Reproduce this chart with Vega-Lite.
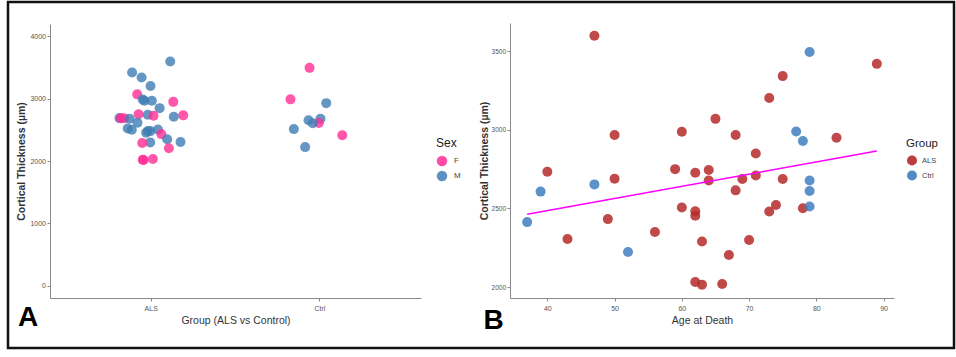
{
  "$schema": "https://vega.github.io/schema/vega-lite/v6.json",
  "width": 946,
  "height": 346,
  "autosize": {"type": "none"},
  "padding": {"left": 8, "top": 2, "right": 2, "bottom": 9},
  "background": "white",
  "config": {
    "font": "Liberation Sans",
    "view": {"stroke": "#111", "strokeWidth": 2.5},
    "axis": {
      "grid": false,
      "domainColor": "#8a8a8a",
      "tickColor": "#8a8a8a",
      "tickSize": 3,
      "labelColor": "#555",
      "labelFontSize": 7,
      "labelFont": "Liberation Sans",
      "titleColor": "#333",
      "titleFont": "Liberation Sans"
    },
    "legend": {
      "titleFont": "Liberation Sans",
      "labelFont": "Liberation Sans"
    }
  },
  "title": {
    "text": "A",
    "orient": "bottom",
    "anchor": "start",
    "frame": "group",
    "fontSize": 28,
    "fontWeight": "bold",
    "color": "#000",
    "offset": -44,
    "dx": 10
  },
  "datasets": {
    "sexdata": [
      {"group": "ALS", "sex": "M", "jitter": 0.113, "thickness": 3599},
      {"group": "ALS", "sex": "M", "jitter": -0.113, "thickness": 3420},
      {"group": "ALS", "sex": "M", "jitter": -0.057, "thickness": 3342},
      {"group": "ALS", "sex": "M", "jitter": -0.004, "thickness": 3203},
      {"group": "ALS", "sex": "F", "jitter": -0.083, "thickness": 3070},
      {"group": "ALS", "sex": "M", "jitter": -0.05, "thickness": 2988},
      {"group": "ALS", "sex": "M", "jitter": -0.04, "thickness": 2967},
      {"group": "ALS", "sex": "M", "jitter": 0.004, "thickness": 2967},
      {"group": "ALS", "sex": "F", "jitter": 0.131, "thickness": 2950},
      {"group": "ALS", "sex": "M", "jitter": 0.05, "thickness": 2849},
      {"group": "ALS", "sex": "F", "jitter": -0.075, "thickness": 2750},
      {"group": "ALS", "sex": "M", "jitter": -0.02, "thickness": 2744},
      {"group": "ALS", "sex": "F", "jitter": 0.19, "thickness": 2733},
      {"group": "ALS", "sex": "F", "jitter": 0.014, "thickness": 2727},
      {"group": "ALS", "sex": "M", "jitter": 0.134, "thickness": 2710},
      {"group": "ALS", "sex": "M", "jitter": -0.188, "thickness": 2689},
      {"group": "ALS", "sex": "F", "jitter": -0.18, "thickness": 2687},
      {"group": "ALS", "sex": "F", "jitter": -0.16, "thickness": 2687},
      {"group": "ALS", "sex": "M", "jitter": -0.128, "thickness": 2678},
      {"group": "ALS", "sex": "M", "jitter": -0.081, "thickness": 2615},
      {"group": "ALS", "sex": "M", "jitter": -0.139, "thickness": 2522},
      {"group": "ALS", "sex": "M", "jitter": 0.04, "thickness": 2506},
      {"group": "ALS", "sex": "M", "jitter": -0.115, "thickness": 2501},
      {"group": "ALS", "sex": "M", "jitter": -0.02, "thickness": 2482},
      {"group": "ALS", "sex": "M", "jitter": -0.005, "thickness": 2480},
      {"group": "ALS", "sex": "M", "jitter": -0.03, "thickness": 2453},
      {"group": "ALS", "sex": "F", "jitter": 0.06, "thickness": 2432},
      {"group": "ALS", "sex": "M", "jitter": 0.095, "thickness": 2350},
      {"group": "ALS", "sex": "M", "jitter": 0.174, "thickness": 2305},
      {"group": "ALS", "sex": "M", "jitter": -0.006, "thickness": 2299},
      {"group": "ALS", "sex": "F", "jitter": -0.053, "thickness": 2289},
      {"group": "ALS", "sex": "F", "jitter": 0.105, "thickness": 2204},
      {"group": "ALS", "sex": "F", "jitter": 0.01, "thickness": 2032},
      {"group": "ALS", "sex": "F", "jitter": -0.05, "thickness": 2019},
      {"group": "ALS", "sex": "F", "jitter": -0.045, "thickness": 2015},
      {"group": "Ctrl", "sex": "F", "jitter": -0.061, "thickness": 3496},
      {"group": "Ctrl", "sex": "F", "jitter": -0.174, "thickness": 2990},
      {"group": "Ctrl", "sex": "M", "jitter": 0.038, "thickness": 2929},
      {"group": "Ctrl", "sex": "M", "jitter": 0.004, "thickness": 2678},
      {"group": "Ctrl", "sex": "M", "jitter": -0.067, "thickness": 2653},
      {"group": "Ctrl", "sex": "F", "jitter": -0.006, "thickness": 2611},
      {"group": "Ctrl", "sex": "M", "jitter": -0.042, "thickness": 2607},
      {"group": "Ctrl", "sex": "M", "jitter": -0.154, "thickness": 2512},
      {"group": "Ctrl", "sex": "F", "jitter": 0.133, "thickness": 2413},
      {"group": "Ctrl", "sex": "M", "jitter": -0.087, "thickness": 2223}
    ],
    "agedata": [
      {"group": "ALS", "age": 47, "thickness": 3599},
      {"group": "ALS", "age": 89, "thickness": 3420},
      {"group": "ALS", "age": 75, "thickness": 3342},
      {"group": "ALS", "age": 73, "thickness": 3203},
      {"group": "ALS", "age": 65, "thickness": 3070},
      {"group": "ALS", "age": 60, "thickness": 2988},
      {"group": "ALS", "age": 50, "thickness": 2967},
      {"group": "ALS", "age": 68, "thickness": 2967},
      {"group": "ALS", "age": 83, "thickness": 2950},
      {"group": "ALS", "age": 71, "thickness": 2849},
      {"group": "ALS", "age": 40, "thickness": 2733},
      {"group": "ALS", "age": 59, "thickness": 2750},
      {"group": "ALS", "age": 62, "thickness": 2727},
      {"group": "ALS", "age": 64, "thickness": 2744},
      {"group": "ALS", "age": 64, "thickness": 2678},
      {"group": "ALS", "age": 50, "thickness": 2689},
      {"group": "ALS", "age": 71, "thickness": 2710},
      {"group": "ALS", "age": 69, "thickness": 2687},
      {"group": "ALS", "age": 75, "thickness": 2687},
      {"group": "ALS", "age": 68, "thickness": 2615},
      {"group": "ALS", "age": 74, "thickness": 2522},
      {"group": "ALS", "age": 73, "thickness": 2480},
      {"group": "ALS", "age": 78, "thickness": 2501},
      {"group": "ALS", "age": 60, "thickness": 2506},
      {"group": "ALS", "age": 62, "thickness": 2482},
      {"group": "ALS", "age": 62, "thickness": 2453},
      {"group": "ALS", "age": 49, "thickness": 2432},
      {"group": "ALS", "age": 43, "thickness": 2305},
      {"group": "ALS", "age": 56, "thickness": 2350},
      {"group": "ALS", "age": 63, "thickness": 2289},
      {"group": "ALS", "age": 70, "thickness": 2299},
      {"group": "ALS", "age": 67, "thickness": 2204},
      {"group": "ALS", "age": 62, "thickness": 2032},
      {"group": "ALS", "age": 63, "thickness": 2015},
      {"group": "ALS", "age": 66, "thickness": 2019},
      {"group": "Ctrl", "age": 79, "thickness": 3496},
      {"group": "Ctrl", "age": 77, "thickness": 2990},
      {"group": "Ctrl", "age": 78, "thickness": 2929},
      {"group": "Ctrl", "age": 79, "thickness": 2678},
      {"group": "Ctrl", "age": 79, "thickness": 2611},
      {"group": "Ctrl", "age": 79, "thickness": 2512},
      {"group": "Ctrl", "age": 47, "thickness": 2653},
      {"group": "Ctrl", "age": 39, "thickness": 2607},
      {"group": "Ctrl", "age": 37, "thickness": 2413},
      {"group": "Ctrl", "age": 52, "thickness": 2223}
    ]
  },
  "layer": [
    {
      "data": {"name": "sexdata"},
      "mark": {"type": "circle", "size": 100, "opacity": 0.8},
      "encoding": {
        "x": {
          "field": "group",
          "type": "nominal",
          "sort": ["ALS", "Ctrl"],
          "scale": {"type": "band", "range": [42, 413], "paddingInner": 0, "paddingOuter": 0.1},
          "axis": {
            "orient": "bottom",
            "offset": -50,
            "labelAngle": 0,
            "labelPadding": 3,
            "title": "Group (ALS vs Control)",
            "titleFontSize": 10.5,
            "titleFontWeight": "normal",
            "titlePadding": 4
          }
        },
        "xOffset": {"field": "jitter", "type": "quantitative", "scale": {"domain": [-0.5, 0.5]}},
        "y": {
          "field": "thickness",
          "type": "quantitative",
          "scale": {"domain": [-200, 4200], "nice": false, "zero": false, "range": [296, 22]},
          "axis": {
            "orient": "left",
            "offset": -42,
            "values": [0, 1000, 2000, 3000, 4000],
            "format": "d",
            "labelPadding": 1.5,
            "title": "Cortical Thickness (µm)",
            "titleFontSize": 10.5,
            "titleFontWeight": "bold",
            "titlePadding": 3
          }
        },
        "color": {
          "field": "sex",
          "type": "nominal",
          "scale": {"domain": ["F", "M"], "range": ["#ff2d95", "#3f7db3"]},
          "legend": {
            "title": "Sex",
            "orient": "none",
            "legendX": 428,
            "legendY": 136,
            "symbolType": "circle",
            "symbolSize": 110,
            "symbolOpacity": 0.85,
            "titleFontSize": 12,
            "titleFontWeight": "normal",
            "titleColor": "#222",
            "labelFontSize": 8,
            "labelColor": "#444",
            "labelOffset": 6,
            "rowPadding": 3,
            "titlePadding": 5
          }
        }
      }
    },
    {
      "data": {"name": "agedata"},
      "encoding": {
        "x": {
          "field": "age",
          "type": "quantitative",
          "scale": {"domain": [34.45, 91.55], "nice": false, "zero": false, "range": [502, 886]},
          "axis": {
            "orient": "bottom",
            "offset": -50,
            "values": [40, 50, 60, 70, 80, 90],
            "format": "d",
            "labelPadding": 3,
            "title": "Age at Death",
            "titleFontSize": 10.5,
            "titleFontWeight": "normal",
            "titlePadding": 4
          }
        },
        "y": {
          "field": "thickness",
          "type": "quantitative",
          "scale": {"domain": [1930, 3680], "nice": false, "zero": false, "range": [296, 21]},
          "axis": {
            "orient": "left",
            "offset": -502,
            "values": [2000, 2500, 3000, 3500],
            "format": "d",
            "labelPadding": 1.5,
            "labelFontSize": 6.5,
            "title": "Cortical Thickness (µm)",
            "titleFontSize": 10.5,
            "titleFontWeight": "bold",
            "titlePadding": 2
          }
        }
      },
      "layer": [
        {
          "mark": {"type": "circle", "size": 100, "opacity": 0.85},
          "encoding": {
            "color": {
              "field": "group",
              "type": "nominal",
              "scale": {"domain": ["ALS", "Ctrl"], "range": ["#b52a2a", "#3f7fbf"]},
              "legend": {
                "title": "Group",
                "orient": "none",
                "legendX": 898,
                "legendY": 136,
                "symbolType": "circle",
                "symbolSize": 100,
                "symbolOpacity": 0.9,
                "titleFontSize": 11.5,
                "titleFontWeight": "normal",
                "titleColor": "#222",
                "labelFontSize": 7.5,
                "labelColor": "#444",
                "labelOffset": 4,
                "rowPadding": 4,
                "titlePadding": 5
              }
            }
          }
        },
        {
          "transform": [{"regression": "thickness", "on": "age"}],
          "mark": {"type": "line", "color": "#ff00ff", "strokeWidth": 1.5},
          "encoding": {
            "x": {
              "field": "age",
              "type": "quantitative",
              "axis": {
                "orient": "bottom",
                "offset": -50,
                "domain": false,
                "ticks": false,
                "labels": false,
                "grid": false,
                "title": "B",
                "titleFontSize": 28,
                "titleFontWeight": "bold",
                "titleColor": "#000",
                "titleAngle": 0,
                "titleAlign": "left",
                "titleBaseline": "top",
                "titleX": 475,
                "titleY": 8
              }
            }
          }
        }
      ],
      "resolve": {"axis": {"x": "independent"}}
    }
  ],
  "resolve": {"scale": {"x": "independent", "y": "independent", "color": "independent"}}
}
